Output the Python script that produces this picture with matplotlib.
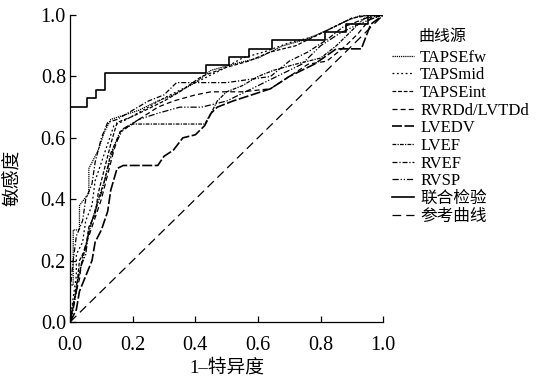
import matplotlib
matplotlib.use("Agg")
import matplotlib.pyplot as plt
from matplotlib.ticker import FormatStrFormatter

plt.rcParams["font.family"] = ["Liberation Serif", "Noto Sans CJK SC"]

# ROC curves (1-specificity, sensitivity)
tapsefw_x = [0, 0, 0.01, 0.01, 0.03, 0.03, 0.06, 0.06, 0.09, 0.11, 0.13, 0.16, 0.22, 0.28, 0.33, 0.4, 0.45, 0.52, 0.6, 0.68, 0.75, 0.82, 0.88, 0.93, 1.0]
tapsefw_y = [0, 0.12, 0.12, 0.3, 0.3, 0.38, 0.42, 0.5, 0.56, 0.62, 0.66, 0.67, 0.69, 0.72, 0.74, 0.78, 0.82, 0.84, 0.86, 0.9, 0.92, 0.95, 0.98, 1.0, 1.0]

tapsmid_x = [0, 0.01, 0.02, 0.02, 0.04, 0.05, 0.07, 0.08, 0.1, 0.12, 0.14, 0.18, 0.25, 0.3, 0.36, 0.42, 0.48, 0.55, 0.62, 0.7, 0.78, 0.84, 0.9, 0.95, 1]
tapsmid_y = [0, 0.08, 0.15, 0.22, 0.26, 0.33, 0.38, 0.46, 0.52, 0.58, 0.64, 0.66, 0.7, 0.73, 0.76, 0.79, 0.82, 0.86, 0.88, 0.91, 0.93, 0.96, 0.99, 1, 1]

tapseint_x = [0, 0.02, 0.03, 0.05, 0.06, 0.08, 0.09, 0.11, 0.13, 0.15, 0.2, 0.26, 0.3, 0.35, 0.42, 0.5, 0.57, 0.64, 0.72, 0.8, 0.86, 0.9, 0.96, 1]
tapseint_y = [0, 0.1, 0.2, 0.24, 0.31, 0.35, 0.42, 0.5, 0.58, 0.65, 0.67, 0.7, 0.72, 0.75, 0.8, 0.83, 0.85, 0.88, 0.9, 0.94, 0.97, 0.99, 1, 1]

rvrdd_x = [0, 0.01, 0.03, 0.04, 0.06, 0.08, 0.1, 0.12, 0.14, 0.16, 0.22, 0.28, 0.33, 0.4, 0.45, 0.55, 0.64, 0.7, 0.76, 0.82, 0.88, 0.92, 0.96, 1]
rvrdd_y = [0, 0.06, 0.14, 0.22, 0.28, 0.34, 0.4, 0.48, 0.56, 0.62, 0.66, 0.7, 0.72, 0.74, 0.75, 0.75, 0.76, 0.8, 0.84, 0.85, 0.9, 0.94, 0.99, 1]

lvedv_x = [0, 0.02, 0.03, 0.05, 0.07, 0.08, 0.1, 0.12, 0.13, 0.15, 0.17, 0.28, 0.3, 0.33, 0.36, 0.4, 0.43, 0.45, 0.47, 0.52, 0.58, 0.64, 0.7, 0.78, 0.85, 0.93, 0.96, 1]
lvedv_y = [0, 0.04, 0.1, 0.15, 0.2, 0.26, 0.3, 0.36, 0.43, 0.5, 0.51, 0.51, 0.54, 0.56, 0.6, 0.61, 0.64, 0.68, 0.7, 0.72, 0.74, 0.76, 0.8, 0.84, 0.89, 0.89, 0.97, 1]

lvef_x = [0, 0.01, 0.02, 0.04, 0.05, 0.07, 0.09, 0.11, 0.13, 0.16, 0.2, 0.43, 0.45, 0.47, 0.5, 0.55, 0.6, 0.65, 0.72, 0.8, 0.85, 0.9, 0.94, 1]
lvef_y = [0, 0.05, 0.12, 0.2, 0.25, 0.33, 0.4, 0.46, 0.55, 0.62, 0.645, 0.645, 0.68, 0.72, 0.75, 0.77, 0.8, 0.82, 0.84, 0.86, 0.9, 0.95, 0.99, 1]

rvef_x = [0, 0, 0.01, 0.02, 0.04, 0.05, 0.07, 0.08, 0.1, 0.12, 0.15, 0.2, 0.25, 0.3, 0.34, 0.5, 0.64, 0.7, 0.76, 0.82, 0.87, 0.92, 0.97, 1]
rvef_y = [0, 0.1, 0.2, 0.28, 0.33, 0.4, 0.45, 0.52, 0.6, 0.65, 0.66, 0.69, 0.72, 0.74, 0.78, 0.78, 0.8, 0.85, 0.88, 0.92, 0.96, 0.98, 1, 1]

rvsp_x = [0, 0.01, 0.02, 0.03, 0.05, 0.06, 0.08, 0.1, 0.12, 0.14, 0.17, 0.22, 0.28, 0.35, 0.42, 0.5, 0.58, 0.66, 0.74, 0.8, 0.86, 0.92, 0.97, 1]
rvsp_y = [0, 0.04, 0.1, 0.17, 0.22, 0.3, 0.36, 0.42, 0.5, 0.57, 0.63, 0.66, 0.68, 0.7, 0.7, 0.72, 0.76, 0.8, 0.84, 0.9, 0.94, 0.97, 0.99, 1]

combo_x = [0, 0, 0.053, 0.053, 0.083, 0.083, 0.11, 0.11, 0.434, 0.434, 0.508, 0.508, 0.572, 0.572, 0.644, 0.644, 0.815, 0.815, 0.88, 0.88, 0.95, 0.95, 1]
combo_y = [0, 0.7, 0.7, 0.73, 0.73, 0.756, 0.756, 0.81, 0.81, 0.837, 0.837, 0.864, 0.864, 0.888, 0.888, 0.918, 0.918, 0.946, 0.946, 0.97, 0.97, 1.0, 1.0]

ref_x = [0, 1]
ref_y = [0, 1]

labels = ["TAPSEfw", "TAPSmid", "TAPSEint", "RVRDd/LVTDd", "LVEDV", "LVEF", "RVEF", "RVSP", "联合检验", "参考曲线"]
curves = [(tapsefw_x, tapsefw_y), (tapsmid_x, tapsmid_y), (tapseint_x, tapseint_y),
          (rvrdd_x, rvrdd_y), (lvedv_x, lvedv_y), (lvef_x, lvef_y), (rvef_x, rvef_y),
          (rvsp_x, rvsp_y), (combo_x, combo_y), (ref_x, ref_y)]
styles = [(0, (1, 0.7)), (0, (1.5, 2)), (0, (3, 1.5)), (0, (4, 2.5)), (0, (6, 1.5)),
          (0, (3, 1, 1, 1)), (0, (4, 1.5, 1, 1.5)), (0, (5, 1.5, 1, 1.5, 1, 1.5)),
          "-", (0, (7, 4))]
widths = [0.9, 0.9, 0.9, 0.9, 1.2, 0.9, 0.9, 0.9, 1.2, 0.9]

fig = plt.figure(figsize=(5.39, 3.87), dpi=100)
ax = fig.add_axes([0.13, 0.168, 0.581, 0.793])

for (x, y), lab, ls, lw in zip(curves, labels, styles, widths):
    ax.plot(x, y, color="black", linestyle=ls, linewidth=lw, label=lab)

ax.set_xlim(0, 1)
ax.set_ylim(0, 1)
ax.set_xticks([0, 0.2, 0.4, 0.6, 0.8, 1.0])
ax.set_yticks([0, 0.2, 0.4, 0.6, 0.8, 1.0])
ax.xaxis.set_major_formatter(FormatStrFormatter("%.1f"))
ax.yaxis.set_major_formatter(FormatStrFormatter("%.1f"))
ax.tick_params(direction="in", length=4, width=0.9, labelsize=14.5)
ax.tick_params(axis="x", pad=10)
ax.tick_params(axis="y", pad=3)
for side in ["top", "right"]:
    ax.spines[side].set_visible(False)
for side in ["left", "bottom"]:
    ax.spines[side].set_linewidth(0.9)

ax.set_xlabel("1–特异度", fontsize=13.5, va="center")
ax.set_ylabel("敏感度", fontsize=13.5, va="center")
ax.xaxis.set_label_coords(0.5, -0.15)
ax.yaxis.set_label_coords(-0.18, 0.47)

leg = ax.legend(loc="upper left", bbox_to_anchor=(0.727, 0.872), bbox_transform=fig.transFigure,
                frameon=False, fontsize=12, handlelength=1.3, handletextpad=0.4,
                labelspacing=0.1, borderaxespad=0, borderpad=0)
fig.text(0.7755, 0.904, "曲线源", fontsize=11.5, ha="left", va="center")

fig.savefig("out.png", dpi=100)
